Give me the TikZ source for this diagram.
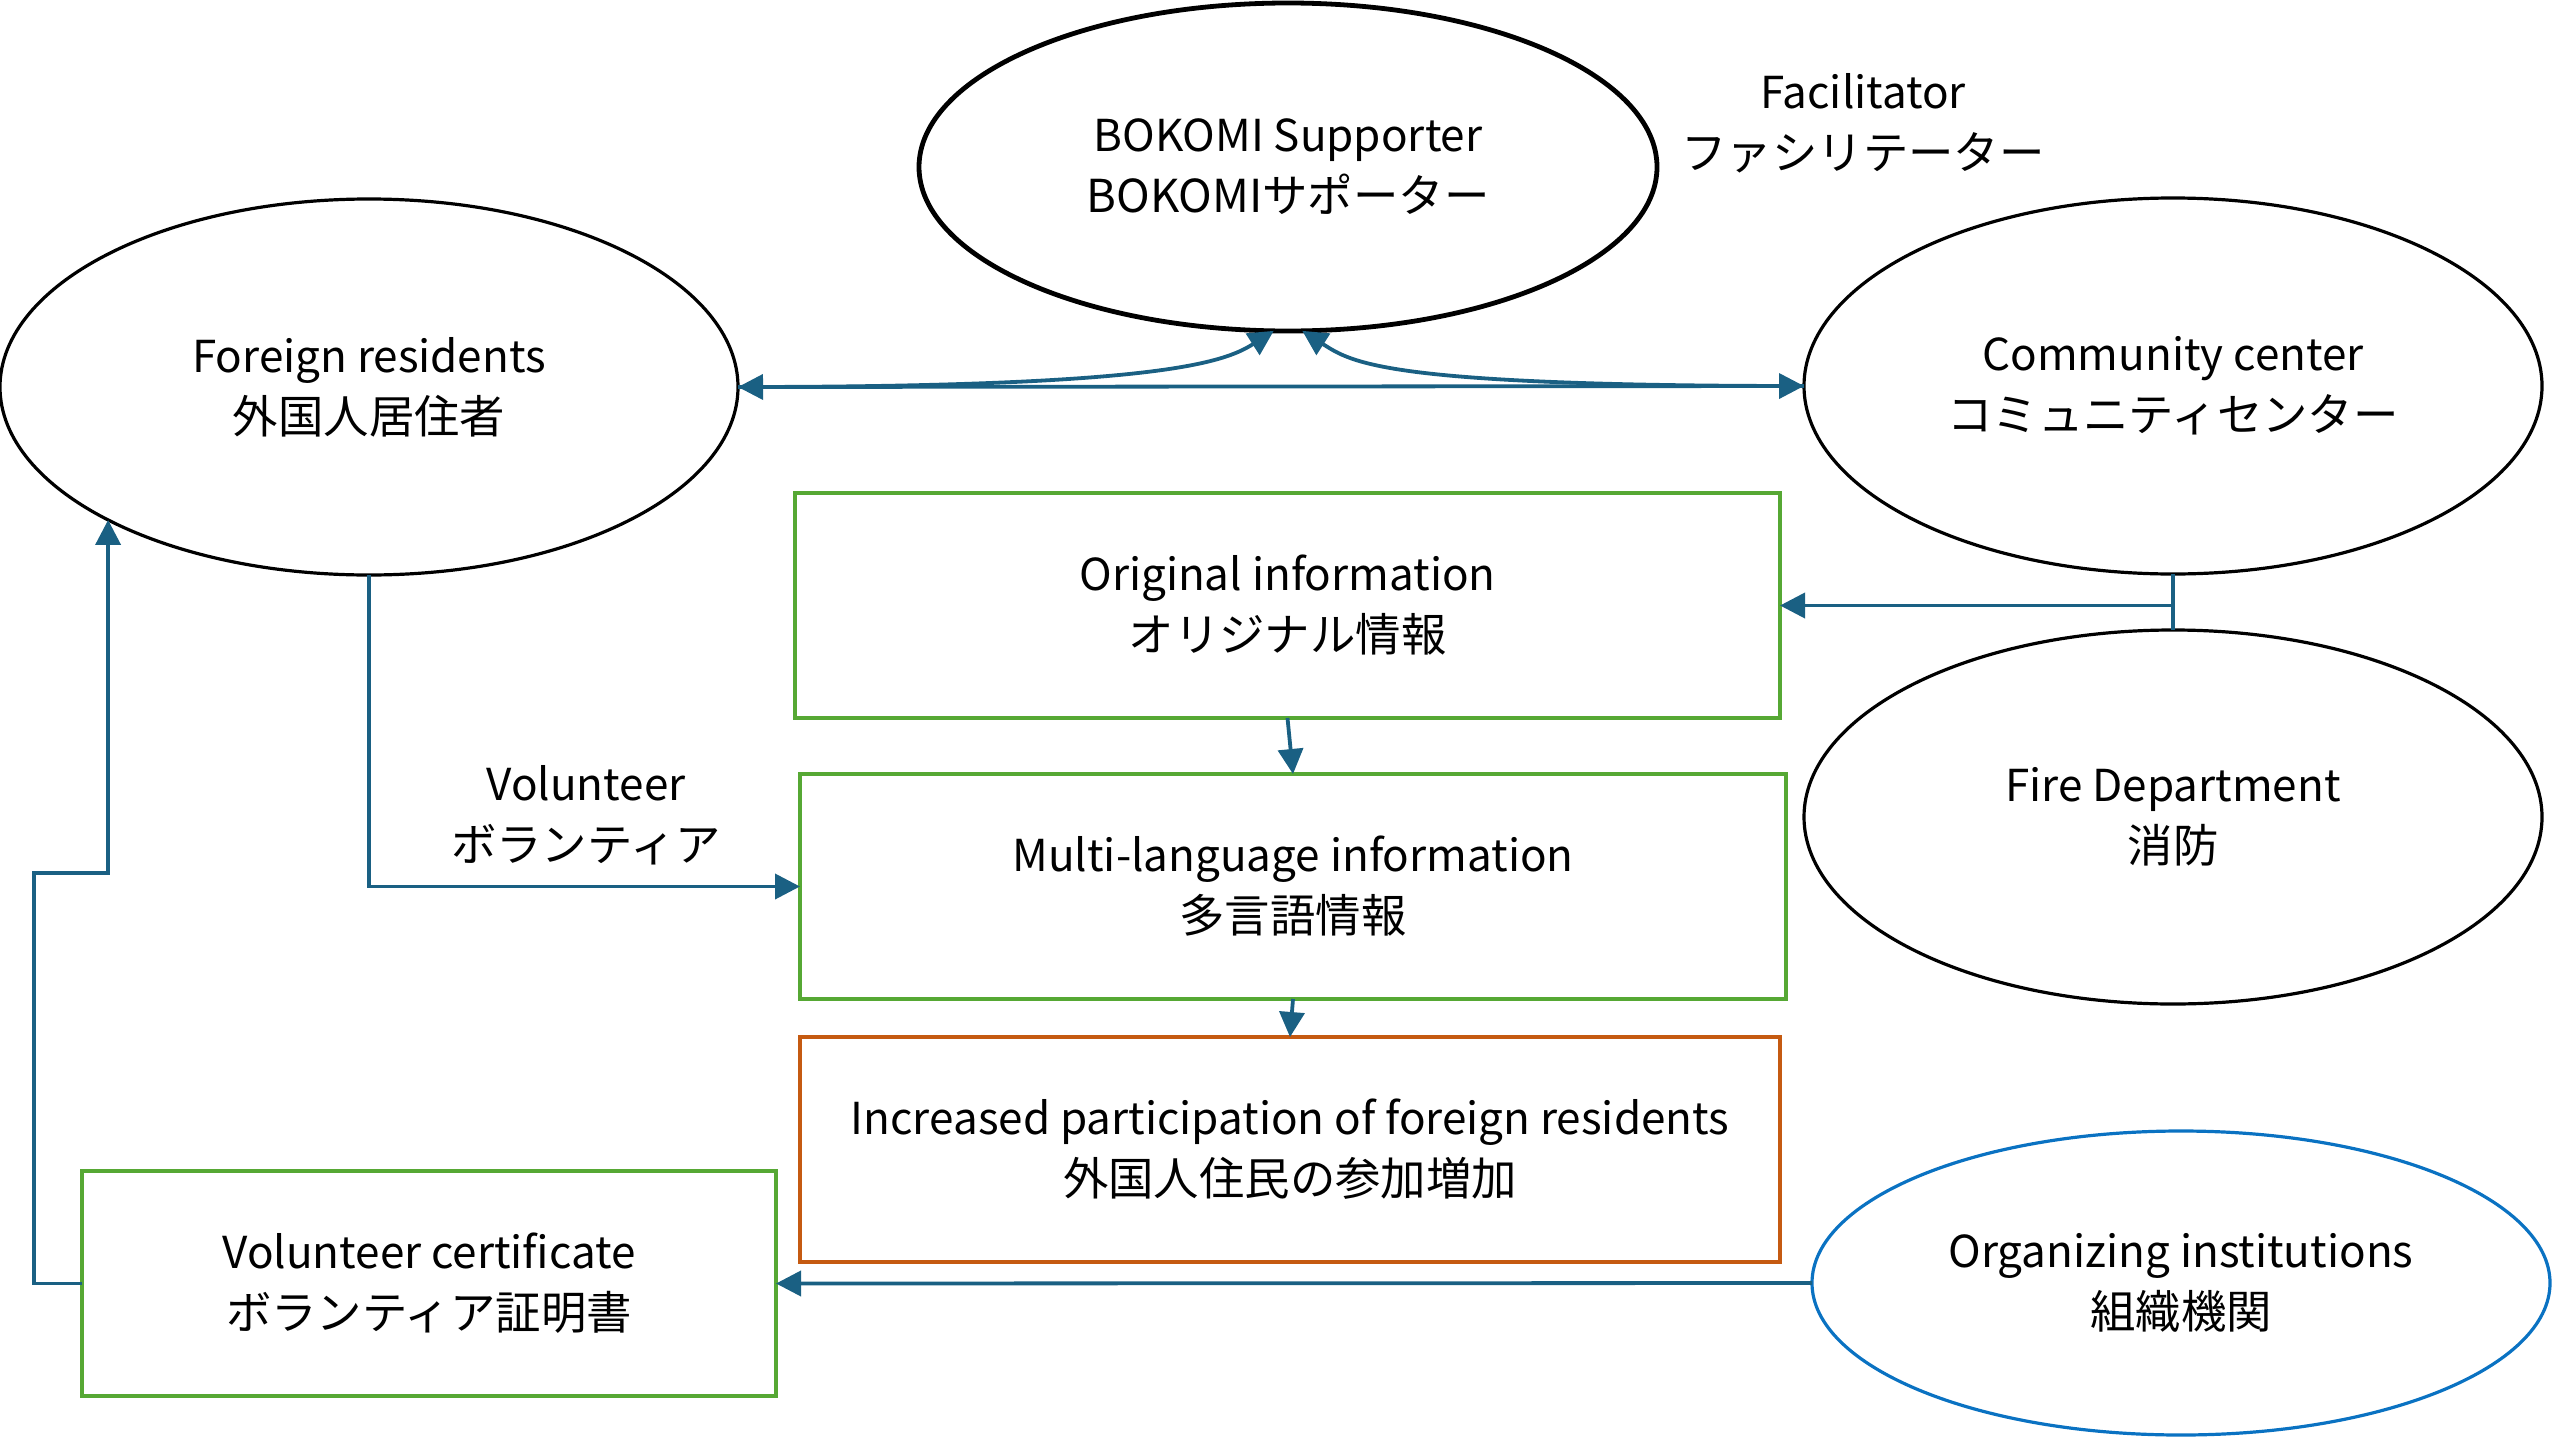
\documentclass[tikz,border=0pt]{standalone}
\usepackage{fontspec}
\setmainfont{Noto Sans CJK JP}
\usetikzlibrary{shapes.geometric,arrows.meta,calc}

\definecolor{linkblue}{HTML}{1A6083}
\definecolor{boxgreen}{HTML}{56A834}
\definecolor{boxorange}{HTML}{C55A11}
\definecolor{orgblue}{HTML}{0A72C2}

\newcommand{\en}{\fontsize{22}{30}\selectfont}
\newcommand{\ja}{\fontsize{22.7}{30}\selectfont}

\tikzset{
  twoline/.style={align=center, font=\fontsize{22}{30.5}\selectfont},
  blob/.style={ellipse, draw=black, line width=1.6pt, minimum width=369pt, inner sep=0pt, outer sep=0pt, twoline},
  infobox/.style={rectangle, draw=boxgreen, line width=1.8pt, inner sep=0pt, outer sep=0pt, twoline, minimum height=112.5pt},
  lbl/.style={inner sep=0pt, twoline},
  arr/.style={draw=linkblue, line width=1.9pt, -{Triangle[length=12.5pt,width=12.5pt]}},
  twoway/.style={draw=linkblue, line width=1.9pt, {Triangle[length=12.5pt,width=12.5pt]}-{Triangle[length=12.5pt,width=12.5pt]}},
  plainlink/.style={draw=linkblue, line width=1.9pt}
}

\begin{document}
\begin{tikzpicture}[x=1pt,y=1pt]
\useasboundingbox (0,0) rectangle (1280,-720);

% ellipses
\node[blob, line width=2.4pt, minimum height=164pt] (bok) at (644,-83.5)
  {{\en BOKOMI Supporter}\\{\ja BOKOMIサポーター}};
\node[blob, minimum height=188pt] (fr) at (184.5,-193.5)
  {{\en Foreign residents}\\{\ja 外国人居住者}};
\node[blob, minimum height=188pt] (cc) at (1086.5,-193)
  {{\en Community center}\\{\ja コミュニティセンター}};
\node[blob, minimum height=187pt] (fire) at (1086.5,-408.5)
  {{\en Fire Department}\\{\ja 消防}};
\node[blob, draw=orgblue, minimum height=152pt] (org) at (1090.5,-641.5)
  {{\en Organizing institutions}\\{\ja 組織機関}};

% boxes
\node[infobox, minimum width=492.5pt] (orig) at (643.75,-302.75)
  {{\en Original information}\\{\ja オリジナル情報}};
\node[infobox, minimum width=493pt] (multi) at (646.5,-443.25)
  {{\en Multi-language information}\\{\ja 多言語情報}};
\node[infobox, draw=boxorange, minimum width=490pt] (inc) at (645,-574.75)
  {{\en Increased participation of foreign residents}\\{\ja 外国人住民の参加増加}};
\node[infobox, minimum width=347pt] (cert) at (214.5,-641.75)
  {{\en Volunteer certificate}\\{\ja ボランティア証明書}};

% free labels
\node[lbl] (facil) at (931.5,-61.5) {{\en Facilitator}\\{\ja ファシリテーター}};
\node[lbl] (vol) at (293,-407.5) {{\en Volunteer}\\{\ja ボランティア}};

% connectors
\draw[twoway] (fr.east) -- (cc.west);
\draw[arr] (fr.east) .. controls +(210,0) and +(-25,-16) .. (bok.265);
\draw[arr] (cc.west) .. controls +(-210,0) and +(25,-16) .. (bok.275);

\draw[plainlink] (cc.south) -- (fire.north);
\draw[arr] (orig.east -| cc.south) -- (orig.east);

\draw[arr] (orig.south) -- (multi.north);
\draw[arr] (multi.south) -- (inc.north);

\draw[arr] (fr.south) |- (multi.west);

\draw[arr] (org.west) -- (cert.east);

\coordinate (bend) at (17,-436.5);
\draw[arr] (cert.west) -| (bend) -| (fr.207);
\end{tikzpicture}
\end{document}
